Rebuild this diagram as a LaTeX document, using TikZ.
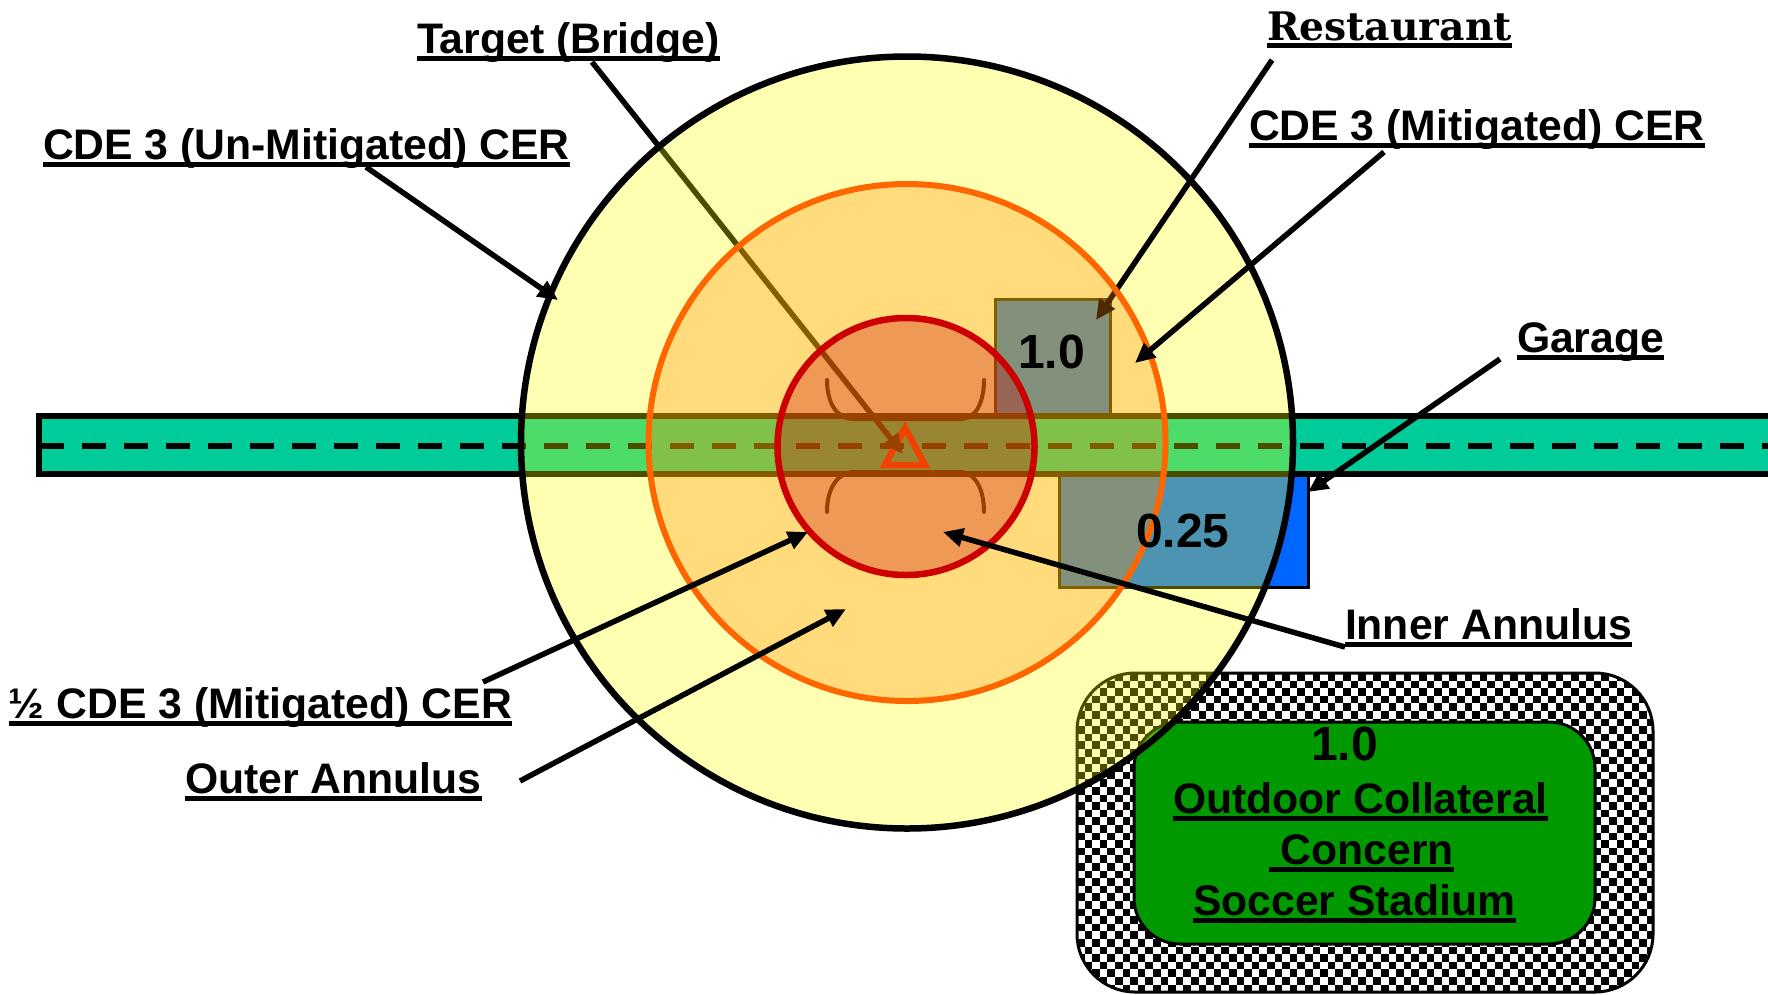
\documentclass[tikz,border=0pt]{standalone}
\usepackage{fontspec}
\setmainfont{Liberation Sans}
\newfontfamily\restfont{DejaVu Serif}
\usetikzlibrary{arrows.meta}
\definecolor{roadc}{HTML}{00CC99}
\definecolor{bluec}{HTML}{0066FF}
\definecolor{greenc}{HTML}{009900}
\definecolor{layery}{HTML}{FFFF00}
\definecolor{layero}{HTML}{FF8800}
\definecolor{strokeo}{HTML}{FF6600}
\definecolor{layerr}{HTML}{CC0000}
\newcommand{\ulb}[1]{\leavevmode\setbox0\hbox{#1}\rlap{\rule[-7.5pt]{\wd0}{4.5pt}}\box0}
\tikzset{
  lab/.style={anchor=base west,inner sep=0pt,outer sep=0pt,font=\fontsize{42.7}{50}\selectfont\bfseries},
  val/.style={anchor=base west,inner sep=0pt,outer sep=0pt,font=\fontsize{48}{50}\selectfont\bfseries},
  ptr/.style={line width=5.5pt,-{Triangle[length=20pt,width=18pt]}},
  bldg/.style={draw=black,line width=3pt,fill=bluec},
  bridge/.style={draw=black,line width=4pt},
}
\begin{document}
\begin{tikzpicture}[x=1pt,y=-1pt]
\useasboundingbox (0,0) rectangle (1768,994);
% coordinates for connector ends
\coordinate (tS) at (592,62);     \coordinate (tE) at (903,454);
\coordinate (rS) at (1272,60);    \coordinate (rE) at (1096,320);
\coordinate (uS) at (366,167);    \coordinate (uE) at (558,300);
\coordinate (mS) at (1384,152);   \coordinate (mE) at (1135,363);
\coordinate (gS) at (1500,359);   \coordinate (gE) at (1308,492);
\coordinate (iS) at (1345,647);   \coordinate (iE) at (943,532);
\coordinate (hS) at (483,682);    \coordinate (hE) at (808,532);
\coordinate (oS) at (520,781);    \coordinate (oE) at (846,609);
% stadium
\begin{scope}
\clip[rounded corners=58pt] (1077,673) rectangle (1653,992);
\fill[white] (1077,673) rectangle (1653,992);
\foreach \i in {0,...,75}{\foreach \j in {0,...,42}{%
  \ifodd\numexpr\i+\j\relax
    \fill[black] ({1077+\i*7.6},{673+\j*7.6}) rectangle ++(7.6,7.6);
  \fi}}
\end{scope}
\draw[black,line width=3pt,rounded corners=58pt] (1077,673) rectangle (1653,992);
\draw[black,line width=3pt,fill=greenc,rounded corners=46pt] (1134,722) rectangle (1595,944);
% buildings
\node[bldg,inner sep=0pt,minimum width=115pt,minimum height=125pt,anchor=north west] (rest) at (994,298) {};
\node[bldg,inner sep=0pt,minimum width=249pt,minimum height=125pt,anchor=south west] (gar) at (1058,589) {};
% road
\draw[black,line width=6.5pt,fill=roadc] (39,416) rectangle (1790,474);
\draw[black,line width=5.5pt,dash pattern=on 24pt off 18pt] (40,446) -- (1768,446);
% bridge
\draw[bridge,line cap=round] (827,380) .. controls (827,402) and (836,418) .. (852,419) -- (962,419) .. controls (976,418) and (984,402) .. (984,380);
\draw[bridge,line cap=round] (827,512) .. controls (827,490) and (836,474) .. (852,472) -- (962,472) .. controls (976,474) and (984,490) .. (984,512);
\draw[red,line width=6.5pt,miter limit=10] (905,428) -- (925,465) -- (885,465) -- cycle;
% pointer under all circles
\draw[ptr] (tS) -- (tE);
% circles
\fill[layery,opacity=.3] (907,442.5) circle[radius=386pt];
\draw[black,line width=6.5pt] (907,442.5) circle[radius=386pt];
\draw[ptr] (rS) -- (rE);
\fill[layero,opacity=.3] (907,442.5) circle[radius=258.5pt];
\draw[strokeo,line width=6pt] (907,442.5) circle[radius=258.5pt];
\fill[layerr,opacity=.3] (906,446.5) circle[radius=128.5pt];
\draw[layerr,line width=6.5pt] (906,446.5) circle[radius=128.5pt];
% pointers on top
\draw[ptr] (uS) -- (uE);
\draw[ptr] (mS) -- (mE);
\draw[ptr] (gS) -- (gE);
\draw[ptr] (iS) -- (iE);
\draw[ptr] (hS) -- (hE);
\draw[ptr] (oS) -- (oE);
% labels
\node[lab] (ltarget) at (417,53) {\ulb{Target (Bridge)}};
\node[lab,font=\fontsize{39.3}{46}\selectfont\restfont\bfseries] (lrest) at (1267,40) {\ulb{Restaurant}};
\node[lab] (lun) at (43,159) {\ulb{CDE 3 (Un-Mitigated) CER}};
\node[lab] (lmit) at (1249,140) {\ulb{CDE 3 (Mitigated) CER}};
\node[lab] (lgar) at (1517,352) {\ulb{Garage}};
\node[lab] (linner) at (1345,639) {\ulb{Inner Annulus}};
\node[lab] (lhalf) at (9,718) {\ulb{½ CDE 3 (Mitigated) CER}};
\node[lab] (louter) at (185,793) {\ulb{Outer Annulus}};
\node[val] (v1) at (1018,368) {1.0};
\node[val] (v2) at (1136,547) {0.25};
\node[val] (v3) at (1311,760) {1.0};
\node[lab] (s1) at (1173,813) {\ulb{Outdoor Collateral}};
\node[lab] (s2) at (1269,864) {\ulb{~Concern}};
\node[lab] (s3) at (1193,915) {\ulb{Soccer Stadium}};
\end{tikzpicture}
\end{document}
